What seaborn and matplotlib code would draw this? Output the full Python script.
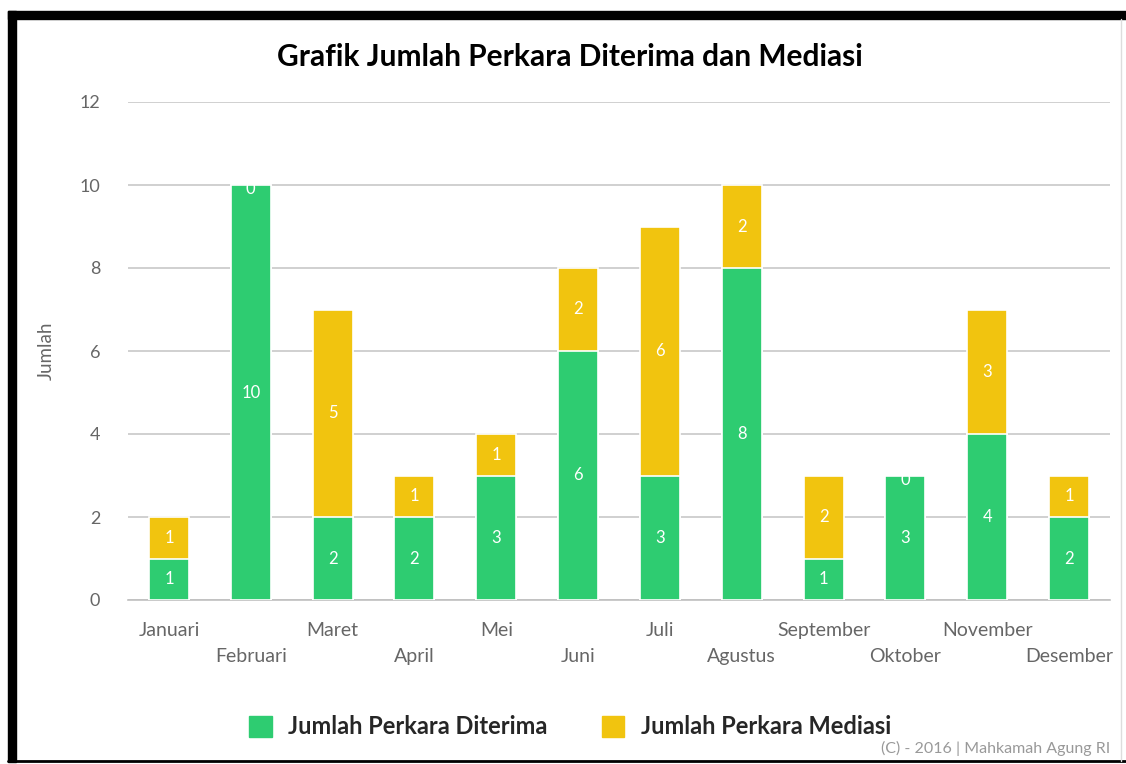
import matplotlib
matplotlib.use('Agg')
import matplotlib.pyplot as plt
import seaborn as sns
import pandas as pd
from matplotlib.patches import Rectangle
from matplotlib.lines import Line2D

# data
bulan = ['Januari', 'Februari', 'Maret', 'April', 'Mei', 'Juni', 'Juli',
         'Agustus', 'September', 'Oktober', 'November', 'Desember']
diterima = [1, 10, 2, 2, 3, 6, 3, 8, 1, 3, 4, 2]
mediasi = [1, 0, 5, 1, 1, 2, 6, 2, 2, 0, 3, 1]

hijau = '#2ecc71'
kuning = '#f1c40f'

df = pd.DataFrame({'bulan': bulan, 'diterima': diterima, 'mediasi': mediasi})
df['total'] = df['diterima'] + df['mediasi']

sns.set_style('white')
plt.rcParams['font.family'] = ['Lato', 'DejaVu Sans']

fig = plt.figure(figsize=(11.26, 7.64), dpi=100)
ax = fig.add_axes([128 / 1126, 1 - 600 / 764, (1110 - 128) / 1126, (600 - 102) / 764])

# stacked: total (kuning) dulu, diterima (hijau) di atasnya
sns.barplot(data=df, x='bulan', y='total', color=kuning, width=0.49,
            edgecolor='white', linewidth=1.2, saturation=1, ax=ax, zorder=3)
sns.barplot(data=df, x='bulan', y='diterima', color=hijau, width=0.49,
            edgecolor='white', linewidth=1.2, saturation=1, ax=ax, zorder=3)

# label di dalam batang
for i in range(len(bulan)):
    ax.text(i, diterima[i] / 2, str(diterima[i]), ha='center', va='center',
            color='white', fontsize=12, zorder=5)
    ax.text(i, diterima[i] + mediasi[i] / 2 - (0.1 if mediasi[i] == 0 else 0),
            str(mediasi[i]), ha='center', va='center',
            color='white', fontsize=12, zorder=5)

ax.set_ylim(0, 12)
ax.set_xlim(-0.5, 11.5)
ax.set_yticks(range(0, 13, 2))
ax.yaxis.grid(True, color='#c8c8c8', linewidth=1.2, zorder=0)
ax.set_axisbelow(True)
for s in ['top', 'right', 'left']:
    ax.spines[s].set_visible(False)
ax.spines['bottom'].set_color('#c0c0c0')
ax.spines['bottom'].set_linewidth(1.2)

# label bulan bertingkat
labels = [b if i % 2 == 0 else '\n' + b for i, b in enumerate(bulan)]
ax.set_xticks(range(len(bulan)))
ax.set_xticklabels(labels, fontsize=14, color='#666666', linespacing=1.6)
ax.tick_params(axis='x', length=0, pad=16)
ax.set_xticks([i - 0.5 for i in range(len(bulan) + 1)], minor=True)
ax.tick_params(axis='x', which='minor', length=12, color='#c0c0c0', width=1.2)
ax.tick_params(axis='y', length=0, pad=20, labelsize=13, labelcolor='#666666')

ax.set_xlabel('')
ax.set_ylabel('Jumlah', fontsize=13.5, color='#666666', labelpad=18)

fig.text(570 / 1126, 1 - 57 / 764, 'Grafik Jumlah Perkara Diterima dan Mediasi',
         ha='center', va='center', fontsize=21.5, fontweight='bold', color='black')

handles = [Rectangle((0, 0), 1, 1, color=hijau), Rectangle((0, 0), 1, 1, color=kuning)]
fig.legend(handles, ['Jumlah Perkara Diterima', 'Jumlah Perkara Mediasi'],
           loc='center', bbox_to_anchor=(570 / 1126, 1 - 727 / 764), ncol=2,
           frameon=False, handlelength=0.95, handleheight=0.95, columnspacing=2.3,
           handletextpad=0.7, prop={'weight': 'bold', 'size': 17})

fig.text(1110 / 1126, 1 - 748 / 764, '(C) - 2016 | Mahkamah Agung RI',
         ha='right', va='center', fontsize=11.5, color='#999999')

# bingkai hitam
fig.add_artist(Rectangle((8 / 1126, 1 - 19 / 764), (1126 - 8) / 1126, 8 / 764,
                         transform=fig.transFigure, color='black'))
fig.add_artist(Rectangle((8 / 1126, 1 - 762 / 764), 8 / 1126, (762 - 11) / 764,
                         transform=fig.transFigure, color='black'))
fig.add_artist(Line2D([8 / 1126, 1], [1 - 761 / 764, 1 - 761 / 764],
                      transform=fig.transFigure, color='black', linewidth=2))
fig.add_artist(Line2D([1121 / 1126, 1121 / 1126], [1 - 761 / 764, 1 - 19 / 764],
                      transform=fig.transFigure, color='#dddddd', linewidth=1))

fig.savefig('out.png', dpi=100, facecolor='white')
